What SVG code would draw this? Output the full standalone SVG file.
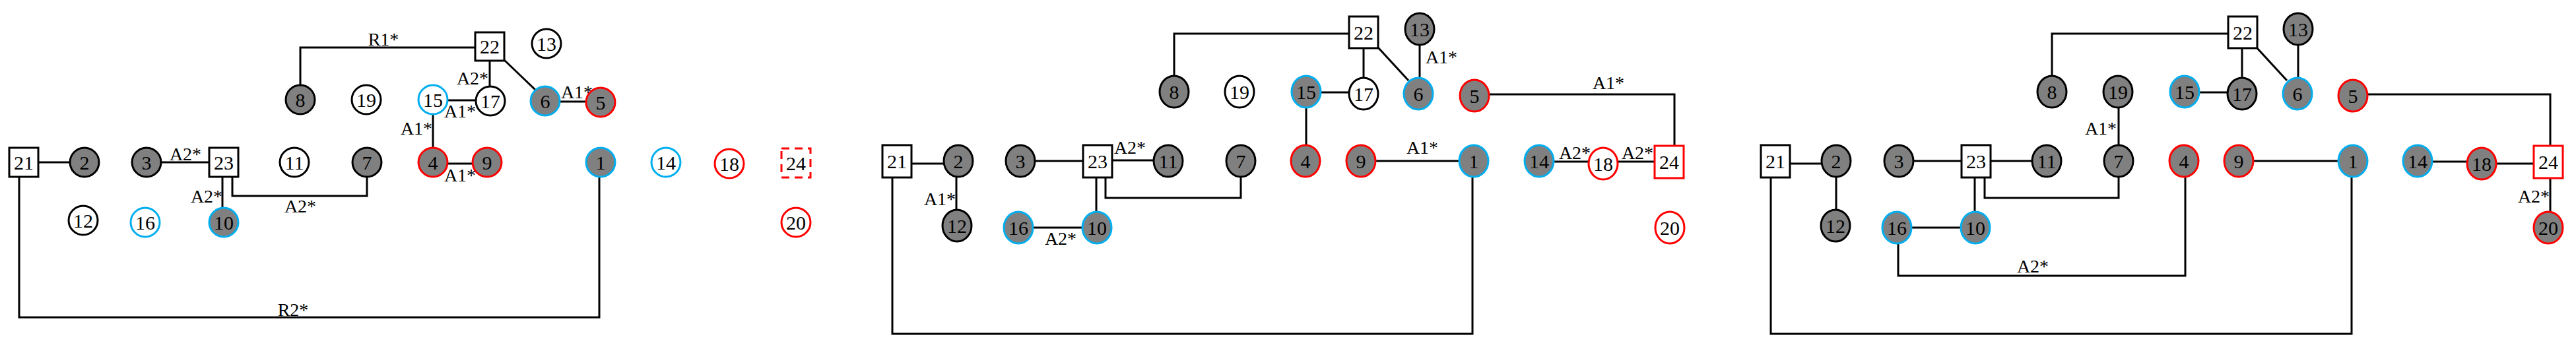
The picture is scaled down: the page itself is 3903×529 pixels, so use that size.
<svg xmlns="http://www.w3.org/2000/svg" width="3903" height="529" viewBox="0 0 3903 529">
<style>
text{font-family:"Liberation Serif","DejaVu Serif",serif;font-size:30px;fill:#000;text-anchor:middle;dominant-baseline:central}
#edges text{font-size:28px}
.g{fill:#808080}.w{fill:#fff}
.k{stroke:#000;stroke-width:3}.b{stroke:#00AEEF;stroke-width:3}.r{stroke:#FF0000;stroke-width:3}
.dash{stroke-dasharray:12,8}
#edges path,#edges line{stroke:#000;stroke-width:3;fill:none}
</style>
<rect width="3903" height="529" fill="#fff"/>
<g id="edges">
<line x1="58" y1="246" x2="106" y2="246"/>
<line x1="244" y1="246" x2="317" y2="246"/>
<line x1="337" y1="268" x2="337" y2="315"/>
<path d="M352,268 V297 H556 V268"/>
<path d="M29,268 V481 H908 V268"/>
<path d="M455,129 V72 H720"/>
<line x1="742" y1="92" x2="742" y2="131"/>
<line x1="764" y1="91" x2="812" y2="137"/>
<line x1="848" y1="154" x2="888" y2="154"/>
<line x1="678" y1="152" x2="721" y2="152"/>
<line x1="656" y1="173" x2="656" y2="224"/>
<line x1="678" y1="248" x2="716" y2="248"/>
<line x1="1381" y1="248" x2="1430" y2="248"/>
<line x1="1449" y1="269" x2="1449" y2="318"/>
<line x1="1568" y1="244" x2="1641" y2="244"/>
<line x1="1685" y1="243" x2="1748" y2="243"/>
<line x1="1661" y1="269" x2="1661" y2="321"/>
<path d="M1675,269 V300 H1880 V269"/>
<line x1="1565" y1="345" x2="1640" y2="345"/>
<path d="M1779,115 V51 H2044"/>
<line x1="2066" y1="73" x2="2066" y2="118"/>
<line x1="2088" y1="72" x2="2134" y2="122"/>
<line x1="2151" y1="68" x2="2151" y2="118"/>
<line x1="2001" y1="140" x2="2044" y2="140"/>
<line x1="1979" y1="163" x2="1979" y2="220"/>
<path d="M2256,143 H2537 V221"/>
<line x1="2084" y1="244" x2="2211" y2="244"/>
<line x1="2354" y1="245" x2="2407" y2="245"/>
<line x1="2451" y1="245" x2="2507" y2="245"/>
<path d="M2231,269 V506 H1352 V269"/>
<line x1="2712" y1="248" x2="2760" y2="248"/>
<line x1="2782" y1="269" x2="2782" y2="318"/>
<line x1="2899" y1="244" x2="2972" y2="244"/>
<line x1="3016" y1="244" x2="3079" y2="244"/>
<line x1="2992" y1="269" x2="2992" y2="321"/>
<path d="M3007,269 V300 H3210 V269"/>
<line x1="2896" y1="345" x2="2971" y2="345"/>
<path d="M3311,269 V418 H2876 V369"/>
<path d="M3109,115 V51 H3376"/>
<line x1="3397" y1="73" x2="3397" y2="118"/>
<line x1="3419" y1="72" x2="3465" y2="122"/>
<line x1="3482" y1="68" x2="3482" y2="118"/>
<line x1="3332" y1="140" x2="3375" y2="140"/>
<line x1="3210" y1="163" x2="3210" y2="220"/>
<path d="M3587,143 H3864 V221"/>
<line x1="3414" y1="244" x2="3543" y2="244"/>
<line x1="3685" y1="245" x2="3738" y2="245"/>
<line x1="3782" y1="248" x2="3839" y2="248"/>
<line x1="3864" y1="270" x2="3864" y2="321"/>
<path d="M3563,269 V506 H2683 V269"/>
<text x="581" y="59">R1*</text><text x="716" y="118">A2*</text><text x="874" y="139">A1*</text>
<text x="697" y="168">A1*</text><text x="631" y="194">A1*</text><text x="697" y="265">A1*</text>
<text x="281" y="233">A2*</text><text x="313" y="297">A2*</text><text x="455" y="312">A2*</text>
<text x="444" y="469">R2*</text>
<text x="2184" y="86">A1*</text><text x="2437" y="125">A1*</text><text x="2155" y="223">A1*</text>
<text x="2386" y="231">A2*</text><text x="2481" y="231">A2*</text><text x="1424" y="301">A1*</text>
<text x="1712" y="223">A2*</text><text x="1607" y="361">A2*</text>
<text x="3839" y="297">A2*</text><text x="3080" y="403">A2*</text><text x="3183" y="194">A1*</text>
</g>
<!-- panel 1 -->
<g id="p1-21"><rect x="14" y="224" width="44" height="44" class="w k"/><text x="36" y="246">21</text></g>
<g id="p1-2"><ellipse cx="128" cy="246" rx="22" ry="22" class="g k"/><text x="128" y="246">2</text></g>
<g id="p1-3"><ellipse cx="222" cy="246" rx="22" ry="22" class="g k"/><text x="222" y="246">3</text></g>
<g id="p1-23"><rect x="317" y="224" width="44" height="44" class="w k"/><text x="339" y="246">23</text></g>
<g id="p1-11"><ellipse cx="446" cy="246" rx="22" ry="22" class="w k"/><text x="446" y="246">11</text></g>
<g id="p1-7"><ellipse cx="556" cy="246" rx="22" ry="22" class="g k"/><text x="556" y="246">7</text></g>
<g id="p1-4"><ellipse cx="656" cy="246" rx="22" ry="22" class="g r"/><text x="656" y="246">4</text></g>
<g id="p1-9"><ellipse cx="738" cy="246" rx="22" ry="22" class="g r"/><text x="738" y="246">9</text></g>
<g id="p1-1"><ellipse cx="910" cy="246" rx="22" ry="22" class="g b"/><text x="910" y="246">1</text></g>
<g id="p1-14"><ellipse cx="1009" cy="246" rx="22" ry="22" class="w b"/><text x="1009" y="246">14</text></g>
<g id="p1-18"><ellipse cx="1105" cy="248" rx="22" ry="22" class="w r"/><text x="1105" y="248">18</text></g>
<g id="p1-24"><rect x="1184" y="225" width="44" height="44" class="w r dash"/><text x="1206" y="247">24</text></g>
<g id="p1-20"><ellipse cx="1206" cy="337" rx="22" ry="22" class="w r"/><text x="1206" y="337">20</text></g>
<g id="p1-12"><ellipse cx="126" cy="334" rx="22" ry="22" class="w k"/><text x="126" y="334">12</text></g>
<g id="p1-16"><ellipse cx="220" cy="337" rx="22" ry="22" class="w b"/><text x="220" y="337">16</text></g>
<g id="p1-10"><ellipse cx="339" cy="337" rx="22" ry="22" class="g b"/><text x="339" y="337">10</text></g>
<g id="p1-8"><ellipse cx="455" cy="151" rx="22" ry="22" class="g k"/><text x="455" y="151">8</text></g>
<g id="p1-19"><ellipse cx="555" cy="151" rx="22" ry="22" class="w k"/><text x="555" y="151">19</text></g>
<g id="p1-15"><ellipse cx="656" cy="151" rx="22" ry="22" class="w b"/><text x="656" y="151">15</text></g>
<g id="p1-17"><ellipse cx="743" cy="153" rx="22" ry="22" class="w k"/><text x="743" y="153">17</text></g>
<g id="p1-6"><ellipse cx="826" cy="153" rx="22" ry="22" class="g b"/><text x="826" y="153">6</text></g>
<g id="p1-5"><ellipse cx="910" cy="155" rx="22" ry="22" class="g r"/><text x="910" y="155">5</text></g>
<g id="p1-22"><rect x="720" y="49" width="44" height="43" class="w k"/><text x="742" y="70">22</text></g>
<g id="p1-13"><ellipse cx="828" cy="66" rx="22" ry="22" class="w k"/><text x="828" y="66">13</text></g>
<!-- panel 2 -->
<g id="p2-21"><rect x="1337" y="220" width="44" height="49" class="w k"/><text x="1359" y="244">21</text></g>
<g id="p2-2"><ellipse cx="1452" cy="244" rx="22" ry="24" class="g k"/><text x="1452" y="244">2</text></g>
<g id="p2-3"><ellipse cx="1546" cy="244" rx="22" ry="24" class="g k"/><text x="1546" y="244">3</text></g>
<g id="p2-23"><rect x="1641" y="220" width="44" height="49" class="w k"/><text x="1663" y="244">23</text></g>
<g id="p2-11"><ellipse cx="1770" cy="244" rx="22" ry="24" class="g k"/><text x="1770" y="244">11</text></g>
<g id="p2-7"><ellipse cx="1880" cy="244" rx="22" ry="24" class="g k"/><text x="1880" y="244">7</text></g>
<g id="p2-8"><ellipse cx="1779" cy="139" rx="22" ry="24" class="g k"/><text x="1779" y="139">8</text></g>
<g id="p2-19"><ellipse cx="1878" cy="139" rx="22" ry="24" class="w k"/><text x="1878" y="139">19</text></g>
<g id="p2-12"><ellipse cx="1450" cy="342" rx="22" ry="24" class="g k"/><text x="1450" y="342">12</text></g>
<g id="p2-16"><ellipse cx="1543" cy="345" rx="22" ry="24" class="g b"/><text x="1543" y="345">16</text></g>
<g id="p2-10"><ellipse cx="1662" cy="345" rx="22" ry="24" class="g b"/><text x="1662" y="345">10</text></g>
<g id="p2-15"><ellipse cx="1979" cy="139" rx="22" ry="24" class="g b"/><text x="1979" y="139">15</text></g>
<g id="p2-17"><ellipse cx="2066" cy="142" rx="22" ry="24" class="w k"/><text x="2066" y="142">17</text></g>
<g id="p2-6"><ellipse cx="2149" cy="142" rx="22" ry="24" class="g b"/><text x="2149" y="142">6</text></g>
<g id="p2-5"><ellipse cx="2234" cy="145" rx="22" ry="24" class="g r"/><text x="2234" y="145">5</text></g>
<g id="p2-13"><ellipse cx="2151" cy="44" rx="22" ry="24" class="g k"/><text x="2151" y="44">13</text></g>
<g id="p2-22"><rect x="2044" y="25" width="44" height="48" class="w k"/><text x="2066" y="49">22</text></g>
<g id="p2-4"><ellipse cx="1978" cy="244" rx="22" ry="24" class="g r"/><text x="1978" y="244">4</text></g>
<g id="p2-9"><ellipse cx="2062" cy="244" rx="22" ry="24" class="g r"/><text x="2062" y="244">9</text></g>
<g id="p2-1"><ellipse cx="2233" cy="244" rx="22" ry="24" class="g b"/><text x="2233" y="244">1</text></g>
<g id="p2-14"><ellipse cx="2332" cy="244" rx="22" ry="24" class="g b"/><text x="2332" y="244">14</text></g>
<g id="p2-18"><ellipse cx="2429" cy="248" rx="22" ry="24" class="w r"/><text x="2429" y="248">18</text></g>
<g id="p2-24"><rect x="2507" y="221" width="44" height="49" class="w r"/><text x="2529" y="245">24</text></g>
<g id="p2-20"><ellipse cx="2530" cy="345" rx="22" ry="24" class="w r"/><text x="2530" y="345">20</text></g>
<!-- panel 3 -->
<g id="p3-21"><rect x="2668" y="220" width="44" height="49" class="w k"/><text x="2690" y="244">21</text></g>
<g id="p3-2"><ellipse cx="2782" cy="244" rx="22" ry="24" class="g k"/><text x="2782" y="244">2</text></g>
<g id="p3-3"><ellipse cx="2877" cy="244" rx="22" ry="24" class="g k"/><text x="2877" y="244">3</text></g>
<g id="p3-23"><rect x="2972" y="220" width="44" height="49" class="w k"/><text x="2994" y="244">23</text></g>
<g id="p3-11"><ellipse cx="3101" cy="244" rx="22" ry="24" class="g k"/><text x="3101" y="244">11</text></g>
<g id="p3-7"><ellipse cx="3210" cy="244" rx="22" ry="24" class="g k"/><text x="3210" y="244">7</text></g>
<g id="p3-8"><ellipse cx="3109" cy="139" rx="22" ry="24" class="g k"/><text x="3109" y="139">8</text></g>
<g id="p3-19"><ellipse cx="3209" cy="139" rx="22" ry="24" class="g k"/><text x="3209" y="139">19</text></g>
<g id="p3-12"><ellipse cx="2781" cy="342" rx="22" ry="24" class="g k"/><text x="2781" y="342">12</text></g>
<g id="p3-16"><ellipse cx="2874" cy="345" rx="22" ry="24" class="g b"/><text x="2874" y="345">16</text></g>
<g id="p3-10"><ellipse cx="2993" cy="345" rx="22" ry="24" class="g b"/><text x="2993" y="345">10</text></g>
<g id="p3-22"><rect x="3376" y="25" width="44" height="48" class="w k"/><text x="3398" y="49">22</text></g>
<g id="p3-13"><ellipse cx="3482" cy="44" rx="22" ry="24" class="g k"/><text x="3482" y="44">13</text></g>
<g id="p3-15"><ellipse cx="3310" cy="139" rx="22" ry="24" class="g b"/><text x="3310" y="139">15</text></g>
<g id="p3-17"><ellipse cx="3397" cy="142" rx="22" ry="24" class="g k"/><text x="3397" y="142">17</text></g>
<g id="p3-6"><ellipse cx="3481" cy="142" rx="22" ry="24" class="g b"/><text x="3481" y="142">6</text></g>
<g id="p3-5"><ellipse cx="3565" cy="145" rx="22" ry="24" class="g r"/><text x="3565" y="145">5</text></g>
<g id="p3-4"><ellipse cx="3309" cy="244" rx="22" ry="24" class="g r"/><text x="3309" y="244">4</text></g>
<g id="p3-9"><ellipse cx="3392" cy="244" rx="22" ry="24" class="g r"/><text x="3392" y="244">9</text></g>
<g id="p3-1"><ellipse cx="3565" cy="244" rx="22" ry="24" class="g b"/><text x="3565" y="244">1</text></g>
<g id="p3-14"><ellipse cx="3663" cy="244" rx="22" ry="24" class="g b"/><text x="3663" y="244">14</text></g>
<g id="p3-18"><ellipse cx="3760" cy="248" rx="22" ry="24" class="g r"/><text x="3760" y="248">18</text></g>
<g id="p3-24"><rect x="3839" y="221" width="44" height="49" class="w r"/><text x="3861" y="245">24</text></g>
<g id="p3-20"><ellipse cx="3861" cy="345" rx="22" ry="24" class="g r"/><text x="3861" y="345">20</text></g>
</svg>
